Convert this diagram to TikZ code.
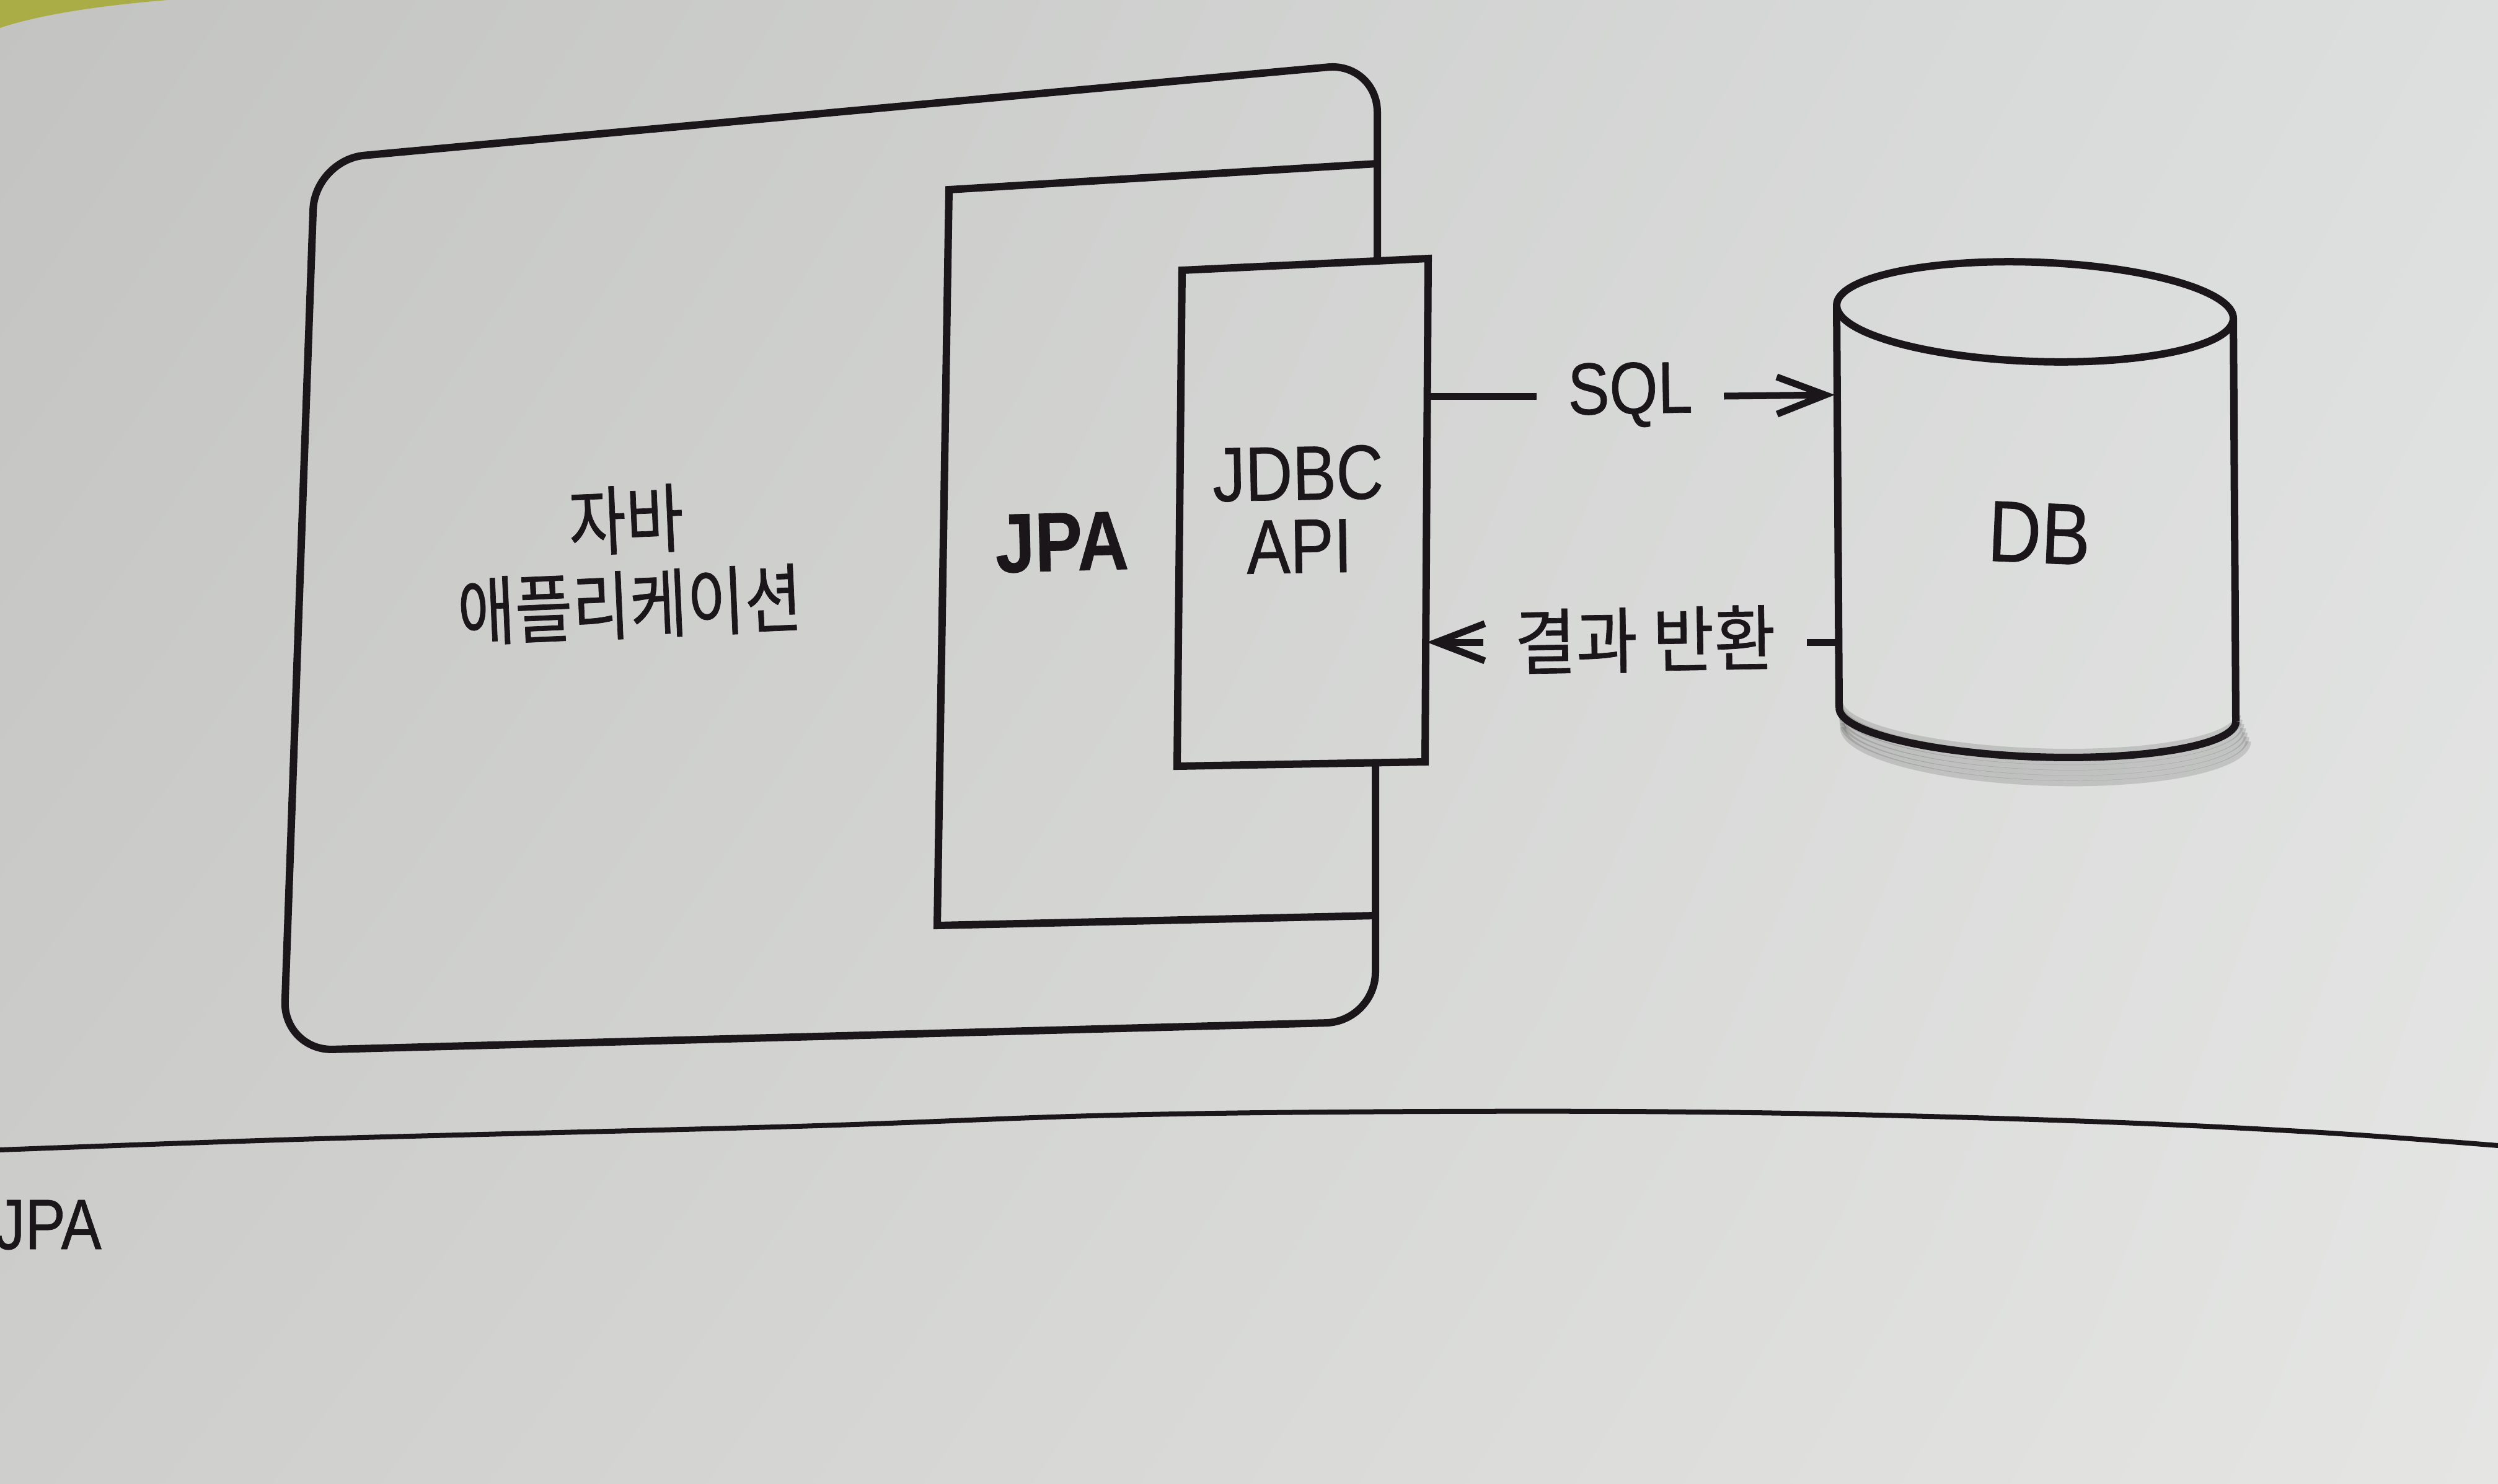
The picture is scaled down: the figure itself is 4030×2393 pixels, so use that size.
\documentclass[tikz,border=0pt]{standalone}
\usepackage{fontspec}
\setmainfont{Liberation Sans}
\newfontfamily\lat[FakeStretch=0.85,FakeBold=0.6]{Liberation Sans}
\newfontfamily\kr[FakeStretch=0.83,FakeBold=0.6]{Noto Sans CJK KR}
\newfontfamily\krw[FakeStretch=0.93,FakeBold=0.6]{Noto Sans CJK KR}
\usetikzlibrary{arrows.meta,shadings}
\definecolor{ink}{RGB}{26,22,26}
\definecolor{tabyellow}{RGB}{170,172,70}
\definecolor{paperUL}{RGB}{195,196,193}
\definecolor{paperUR}{RGB}{221,223,223}
\definecolor{paperLL}{RGB}{206,207,204}
\definecolor{paperLR}{RGB}{229,230,228}
\begin{document}
\begin{tikzpicture}[x=0.01cm,y=-0.01cm,
  line/.style={draw=ink, line width=0.12cm, line join=round},
  boxline/.style={draw=ink, line width=0.12cm, line join=miter},
  lbl/.style={text=ink, inner sep=0pt, align=center},
  conn/.style={draw=ink, line width=0.11cm},
  tip/.style={-{Straight Barb[length=0.78cm,width=0.6cm]}},
  shadowarc/.style={draw=black, line width=0.09cm, opacity=0.13}
]
\useasboundingbox (0,0) rectangle (4030,2393);
% paper
\shade[upper left=paperUL, upper right=paperUR,
       lower left=paperLL, lower right=paperLR]
  (0,0) rectangle (4030,2393);
\fill[tabyellow] (0,0) -- (270,0) .. controls (150,10) and (60,25) .. (0,45) -- cycle;

% Java application (outer box)
\coordinate (appTR) at (2222,101);
\coordinate (appTL) at (508,258);
\coordinate (appBL) at (457,1695);
\coordinate (appBR) at (2219,1648);
\draw[line, rounded corners=0.8cm] (2222,421) -- (appTR) -- (appTL) -- (appBL) -- (appBR) -- (2219,1230);

% JPA box
\coordinate (jpaTR) at (2222,264);
\coordinate (jpaTL) at (1531,306);
\coordinate (jpaBL) at (1512,1493);
\coordinate (jpaBR) at (2219,1477);
\draw[boxline] (jpaTR) -- (jpaTL) -- (jpaBL) -- (jpaBR);

% JDBC API box
\coordinate (jdbcTL) at (1907,436);
\coordinate (jdbcTR) at (2304,417);
\coordinate (jdbcBR) at (2299,1229);
\coordinate (jdbcBL) at (1899,1236);
\draw[boxline] (jdbcTL) -- (jdbcTR) -- (jdbcBR) -- (jdbcBL) -- cycle;

% DB cylinder
\coordinate (dbTL) at (2963,492);
\coordinate (dbTR) at (3603,514);
\coordinate (dbBL) at (2967,1142);
\coordinate (dbBR) at (3607,1164);
\begin{scope}[shift={(3287,1153)}, rotate=-2]
  \foreach \k in {1,...,7}
    \draw[shadowarc] (-320+\k,-18+7*\k)
      arc[start angle=180, end angle=360, x radius=3.2cm+0.01cm*\k, y radius=0.68cm+0.015cm*\k];
\end{scope}
\begin{scope}[shift={(3283,503)}, rotate=-2]
  \draw[line] (0,0) ellipse [x radius=3.2cm, y radius=0.8cm];
\end{scope}
\draw[line] (dbTL) -- (dbBL);
\draw[line] (dbTR) -- (dbBR);
\begin{scope}[shift={(3287,1153)}, rotate=-2]
  \draw[line] (-320,0) arc[start angle=180, end angle=360, x radius=3.2cm, y radius=0.68cm];
\end{scope}

% labels
\node[lbl, rotate=2.5, font=\kr\fontsize{34.5}{39}\selectfont] (app) at (1013,907)
  {자바\\애플리케이션};
\node[lbl, rotate=1.5, font=\lat\bfseries\fontsize{38.4}{40}\selectfont] (jpa) at (1713,875)
  {JPA};
\node[lbl, rotate=1, font=\lat\fontsize{35.3}{33.5}\selectfont] (jdbc) at (2095,822)
  {JDBC\\API};
\node[lbl, rotate=-2.5, font=\lat\fontsize{39.8}{42}\selectfont] (db) at (3290,860)
  {DB};

% connectors
\coordinate (jdbcR1) at (2303,639);
\coordinate (dbL1) at (2960,637);
\coordinate (jdbcR2) at (2302,1036);
\coordinate (dbL2) at (2966,1036);
\node[lbl, inner xsep=0.5cm, rotate=1, font=\lat\fontsize{33.6}{36}\selectfont] (sql) at (2630,637)
  {SQL};
\node[lbl, inner xsep=0.5cm, rotate=1, font=\krw\fontsize{33}{36}\selectfont] (ret) at (2654,1032)
  {결과 반환};
\draw[conn] (jdbcR1) -- (jdbcR1 -| sql.west);
\draw[conn, tip] (jdbcR1 -| sql.east) -- (dbL1);
\draw[conn] (dbL2) -- (dbL2 -| ret.east);
\draw[conn, tip] (dbL2 -| ret.west) -- (jdbcR2);

% page rule and caption
\draw[draw=ink, line width=0.08cm] plot[smooth, tension=0.6] coordinates
  {(0,1855) (514,1837) (1285,1817) (1800,1799) (2314,1793) (2828,1795) (3342,1808) (3728,1826) (4030,1848)};
\node[lbl, anchor=base west, font=\lat\fontsize{32.7}{36}\selectfont] (cap) at (-9,2015)
  {JPA};
\end{tikzpicture}
\end{document}
